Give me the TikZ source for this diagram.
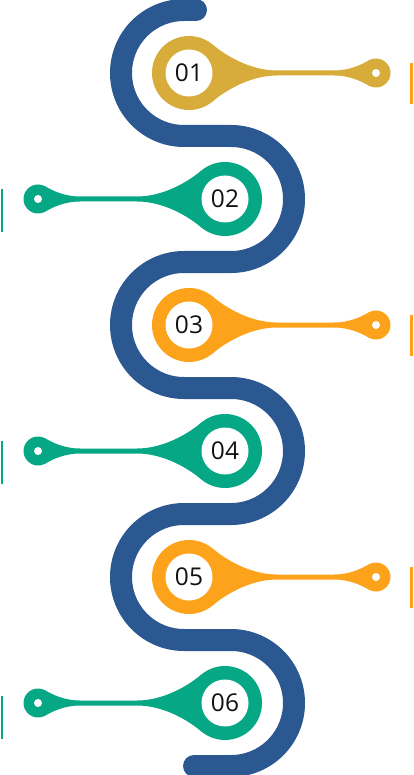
\documentclass[tikz,border=0pt]{standalone}
\usepackage{fontspec}
\newfontfamily\numfont{Open Sans}
\definecolor{snakeblue}{HTML}{2B5891}
\definecolor{pingold}{HTML}{D8AC3A}
\definecolor{pingreen}{HTML}{06A785}
\definecolor{pinorange}{HTML}{FDA31B}
\definecolor{numtext}{HTML}{111111}
\newcommand\drawpinshape[1]{%
  \fill[#1] (0,0) circle (37);
  \fill[#1] (187,0) circle (14.5);
  \fill[#1] (0,0) -- (23.8,28.3) .. controls (37.6,16.7) and (62,2.5) .. (88,2.5)
    -- (145,2.5) .. controls (160,2.5) and (171.96,8.06) .. (179.75,12.56) -- (187,0)
    -- (179.75,-12.56) .. controls (171.96,-8.06) and (160,-2.5) .. (145,-2.5)
    -- (88,-2.5) .. controls (62,-2.5) and (37.6,-16.7) .. (23.8,-28.3) -- cycle;
  \fill[white] (0,0) circle (23.5);
  \fill[white] (187,0) circle (4);
}
\tikzset{
  snake/.style={draw=snakeblue, line width=22pt, line cap=round},
  numlabel/.style={font=\numfont\fontsize{24.5}{24.5}\selectfont, text=numtext, inner sep=0pt},
  rline/.style={draw=pinorange, line width=2.5pt},
  lline/.style={draw=pingreen, line width=2.5pt}
}
\begin{document}
\begin{tikzpicture}[x=1pt,y=1pt]
\useasboundingbox (0,0) rectangle (413,-775);
% serpentine
\coordinate (s0) at (196,-10);
\coordinate (s6) at (194,-766);
\draw[snake] (s0) -- (184,-10) arc[start angle=90,end angle=270,radius=63]
  -- (231,-136) arc[start angle=90,end angle=-90,radius=63]
  -- (184,-262) arc[start angle=90,end angle=270,radius=63]
  -- (231,-388) arc[start angle=90,end angle=-90,radius=63]
  -- (184,-514) arc[start angle=90,end angle=270,radius=63]
  -- (231,-640) arc[start angle=90,end angle=-90,radius=63]
  -- (s6);
% pins
\begin{scope}[shift={(189,-73)}]\drawpinshape{pingold}\end{scope}
\begin{scope}[shift={(225,-199)},xscale=-1]\drawpinshape{pingreen}\end{scope}
\begin{scope}[shift={(189,-325)}]\drawpinshape{pinorange}\end{scope}
\begin{scope}[shift={(225,-451)},xscale=-1]\drawpinshape{pingreen}\end{scope}
\begin{scope}[shift={(189,-577)}]\drawpinshape{pinorange}\end{scope}
\begin{scope}[shift={(225,-703)},xscale=-1]\drawpinshape{pingreen}\end{scope}
% labels
\node[numlabel] (n1) at (189,-73) {01};
\node[numlabel] (n2) at (225,-199) {02};
\node[numlabel] (n3) at (189,-325) {03};
\node[numlabel] (n4) at (225,-451) {04};
\node[numlabel] (n5) at (189,-577) {05};
\node[numlabel] (n6) at (225,-703) {06};
% side lines
\coordinate (r1a) at (411.5,-63); \coordinate (r1b) at (411.5,-104);
\coordinate (r3a) at (411.5,-315); \coordinate (r3b) at (411.5,-356);
\coordinate (r5a) at (411.5,-567); \coordinate (r5b) at (411.5,-608);
\coordinate (l2a) at (2,-189); \coordinate (l2b) at (2,-232);
\coordinate (l4a) at (2,-441); \coordinate (l4b) at (2,-484);
\coordinate (l6a) at (2,-696); \coordinate (l6b) at (2,-739);
\draw[rline] (r1a) -- (r1b);
\draw[rline] (r3a) -- (r3b);
\draw[rline] (r5a) -- (r5b);
\draw[lline] (l2a) -- (l2b);
\draw[lline] (l4a) -- (l4b);
\draw[lline] (l6a) -- (l6b);
\end{tikzpicture}
\end{document}
